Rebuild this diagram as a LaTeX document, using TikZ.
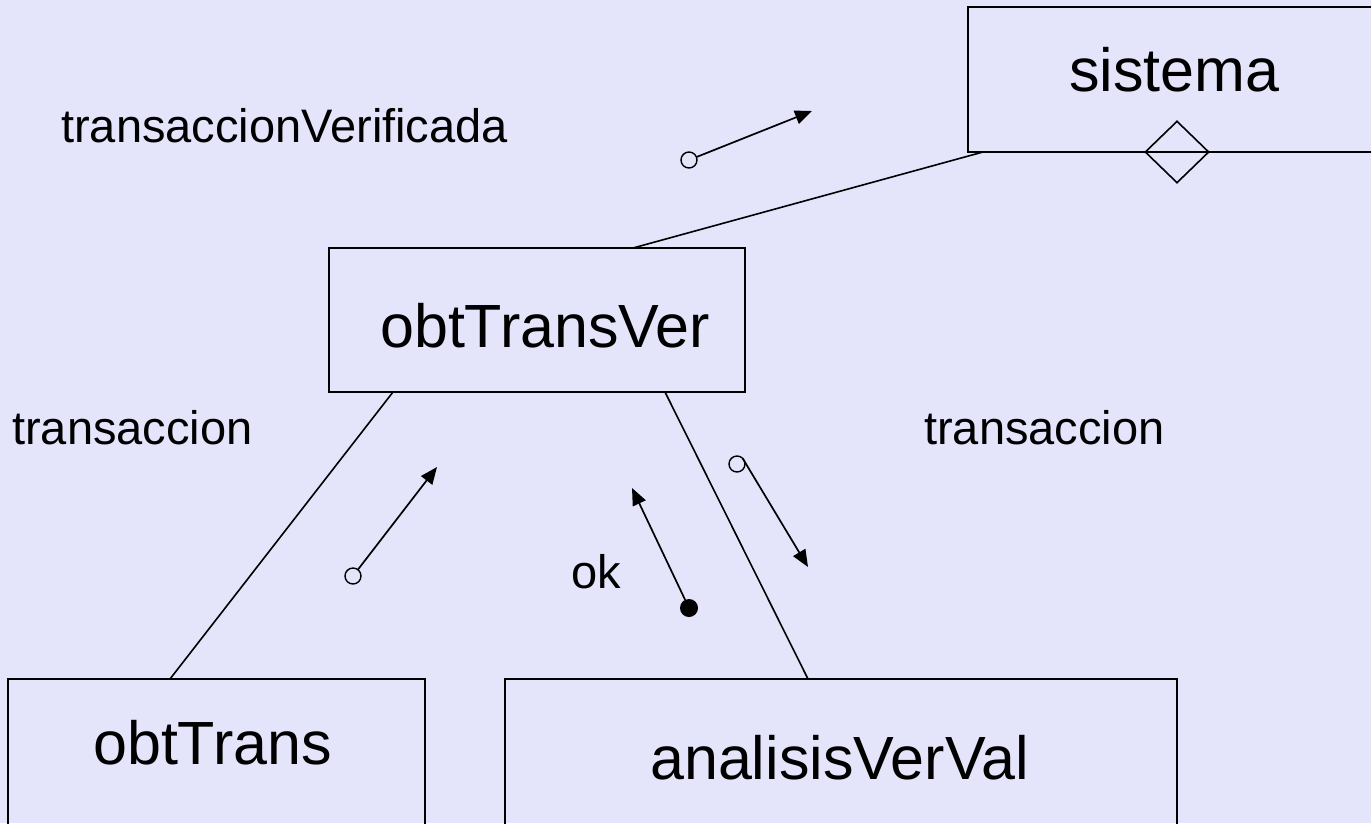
\documentclass[tikz,border=0pt]{standalone}
\usepackage{fontspec}
\setmainfont{Liberation Sans}
\usetikzlibrary{arrows.meta,calc,shapes.geometric}

\definecolor{bgpaper}{RGB}{228,228,251}

\tikzset{
  box/.style={draw, line width=2pt, inner sep=0pt, outer sep=0pt, rectangle},
  bigtext/.style={inner sep=0pt, anchor=base west, font=\fontsize{61}{61}\selectfont},
  smalltext/.style={inner sep=0pt, anchor=base west, font=\fontsize{47}{47}\selectfont},
  link/.style={line width=1.6pt},
  msg/.style={line width=1.7pt, -{Triangle[length=17pt,width=14pt]}},
  openport/.style={circle, draw, line width=1.4pt, minimum size=16pt, inner sep=0pt, outer sep=0pt},
  fullport/.style={circle, fill=black, minimum size=18pt, inner sep=0pt, outer sep=0pt},
  aggr/.style={diamond, draw, line width=1.6pt, inner sep=0pt, minimum width=64pt, minimum height=62pt, fill=none},
}

\begin{document}
\begin{tikzpicture}[x=1pt, y=-1pt]
  % page and background
  \useasboundingbox (0,0) rectangle (1371,823);
  \fill[bgpaper] (0,0) rectangle (1371,823);
  \clip (0,0) rectangle (1371,823);

  % module boxes
  \node[box, minimum width=418pt, minimum height=145pt] (sistema) at (1177,79.5) {};
  \node[box, minimum width=416pt, minimum height=144pt] (obtTransVer) at (537,320) {};
  \node[box, minimum width=417pt, minimum height=161pt] (obtTrans) at (216.5,759.5) {};
  \node[box, minimum width=672pt, minimum height=161pt] (analisis) at (841,759.5) {};

  % aggregation diamond on the bottom edge of sistema
  \node[aggr] (rombo) at (sistema.south) {};

  % box titles
  \node[bigtext] (tSistema) at (1069,91) {sistema};
  \node[bigtext] (tObtTransVer) at (380,347) {obtTransVer};
  \node[bigtext] (tObtTrans) at (93,764) {obtTrans};
  \node[bigtext] (tAnalisis) at (650,779) {analisisVerVal};

  % hierarchy links
  \draw[link] ($(sistema.south west)+(15,0)$) -- ($(obtTransVer.north west)+(304,0)$);
  \draw[link] ($(obtTransVer.south west)+(64,0)$) -- ($(obtTrans.north west)+(162,0)$);
  \draw[link] ($(obtTransVer.south west)+(336,0)$) -- ($(analisis.north west)+(303,0)$);

  % data couples
  \node[openport] (p1) at (689,160) {};
  \coordinate (q1) at (812,111);
  \draw[msg] (p1) -- (q1);
  \node[smalltext] (l1) at (61,142) {transaccionVerificada};

  \node[openport] (p2) at (353,576) {};
  \coordinate (q2) at (437,467);
  \draw[msg] (p2) -- (q2);
  \node[smalltext] (l2) at (12,444) {transaccion};

  \node[fullport] (p3) at (689,608) {};
  \coordinate (q3) at (632,488);
  \draw[msg] (p3) -- (q3);
  \node[smalltext] (l3) at (571,588) {ok};

  \node[openport] (p4) at (737,464) {};
  \coordinate (q4) at (808,567);
  \draw[msg] (p4.north east) -- (q4);
  \node[smalltext] (l4) at (924,444) {transaccion};
\end{tikzpicture}
\end{document}
